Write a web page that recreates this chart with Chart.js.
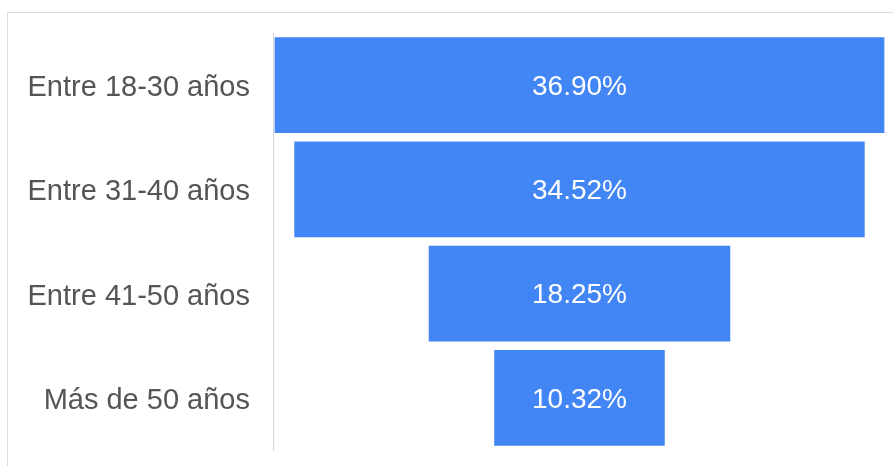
<!DOCTYPE html>
<html>
<head>
<meta charset="utf-8">
<script src="https://cdn.jsdelivr.net/npm/chart.js@4.4.1/dist/chart.umd.min.js"></script>
<style>
  html, body { margin: 0; padding: 0; background: #fff; overflow: hidden; }
  #frame {
    position: absolute; left: 7px; top: 12px; width: 1000px; height: 600px;
    border-top: 1px solid #dcdcdc; border-left: 1px solid #dcdcdc;
  }
  #wrap { position: absolute; left: 0; top: 0; width: 893px; height: 466px; }
</style>
</head>
<body>
<div id="frame"></div>
<div id="wrap"><canvas id="funnelChart"></canvas></div>
<script>
const ageGroups = ["Entre 18-30 años", "Entre 31-40 años", "Entre 41-50 años", "Más de 50 años"];
const shares = [36.90, 34.52, 18.25, 10.32];
const barColor = "#4285f4";

// each bar spans [-v/2, v/2] so the stages sit centred like a funnel
const funnelRanges = shares.map(v => [-v / 2, v / 2]);

const valueLabels = {
  id: "valueLabels",
  afterDatasetsDraw(chart) {
    const ctx = chart.ctx;
    const meta = chart.getDatasetMeta(0);
    ctx.save();
    ctx.fillStyle = "#ffffff";
    ctx.font = "28px 'Liberation Sans', Arial, sans-serif";
    ctx.textAlign = "center";
    ctx.textBaseline = "middle";
    meta.data.forEach((bar, i) => {
      const cx = chart.scales.x.getPixelForValue(0);
      ctx.fillText(shares[i].toFixed(2) + "%", cx, bar.y + 2);
    });
    ctx.restore();
  }
};

const ctx = document.getElementById("funnelChart").getContext("2d");
new Chart(ctx, {
  type: "bar",
  data: {
    labels: ageGroups,
    datasets: [{
      data: funnelRanges,
      backgroundColor: barColor,
      borderWidth: 0,
      categoryPercentage: 1,
      barPercentage: 0.92
    }]
  },
  options: {
    indexAxis: "y",
    responsive: true,
    maintainAspectRatio: false,
    animation: false,
    layout: { padding: { top: 33, bottom: 16, right: 7, left: 0 } },
    plugins: {
      legend: { display: false },
      tooltip: { enabled: false }
    },
    scales: {
      x: {
        display: false,
        min: -18.55,
        max: 18.55
      },
      y: {
        afterFit(scale) {
          scale.width = 273;
          // labels sit inside their bands, no extra room needed above/below
          scale.paddingTop = 0;
          scale.paddingBottom = 0;
        },
        grid: { display: false, drawTicks: false },
        border: { display: true, color: "#d6d6d6", width: 1 },
        ticks: {
          padding: 23,
          labelOffset: 3,
          color: "#555555",
          font: { family: "'Liberation Sans', Arial, sans-serif", size: 29 }
        }
      }
    }
  },
  plugins: [valueLabels]
});
</script>
</body>
</html>
